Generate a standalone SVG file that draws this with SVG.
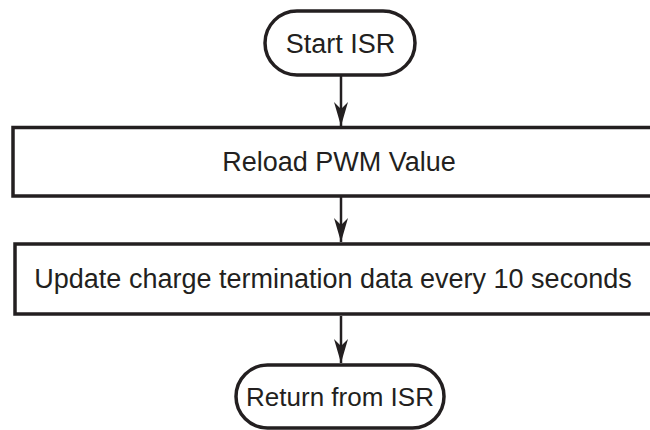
<svg xmlns="http://www.w3.org/2000/svg" width="650" height="430" viewBox="0 0 650 430">
<defs>
<style>
.shape{fill:#ffffff;stroke:#231f20;stroke-width:3.5}
.lbl{font-family:"Liberation Sans",Arial,sans-serif;font-size:27px;fill:#231f20;text-anchor:middle}
.conn{stroke:#231f20;stroke-width:2.5;fill:none}
</style>
<marker id="arr" markerUnits="userSpaceOnUse" markerWidth="26" markerHeight="16" refX="24" refY="7" orient="auto" viewBox="0 0 26 14" overflow="visible">
<path d="M24,7 L0,0 L7,7 L0,14 Z" fill="#231f20"/>
</marker>
</defs>
<rect width="650" height="430" fill="#ffffff"/>
<g id="connectors">
<line class="conn" x1="341" y1="75" x2="341" y2="126" marker-end="url(#arr)"/>
<line class="conn" x1="341" y1="197" x2="341" y2="242" marker-end="url(#arr)"/>
<line class="conn" x1="341" y1="316" x2="341" y2="363" marker-end="url(#arr)"/>
</g>
<g id="start">
<rect class="shape" x="265" y="11" width="150" height="64" rx="32" ry="32"/>
<text class="lbl" x="340.5" y="52.5">Start ISR</text>
</g>
<g id="reload">
<rect class="shape" x="13" y="127.5" width="700" height="68.5"/>
<text class="lbl" x="339" y="171">Reload PWM Value</text>
</g>
<g id="update">
<rect class="shape" x="15" y="244" width="700" height="70"/>
<text class="lbl" x="333" y="288">Update charge termination data every 10 seconds</text>
</g>
<g id="return">
<rect class="shape" x="236" y="365" width="208" height="63" rx="31.5" ry="31.5"/>
<text class="lbl" x="340" y="406" style="font-size:26px">Return from ISR</text>
</g>
</svg>
